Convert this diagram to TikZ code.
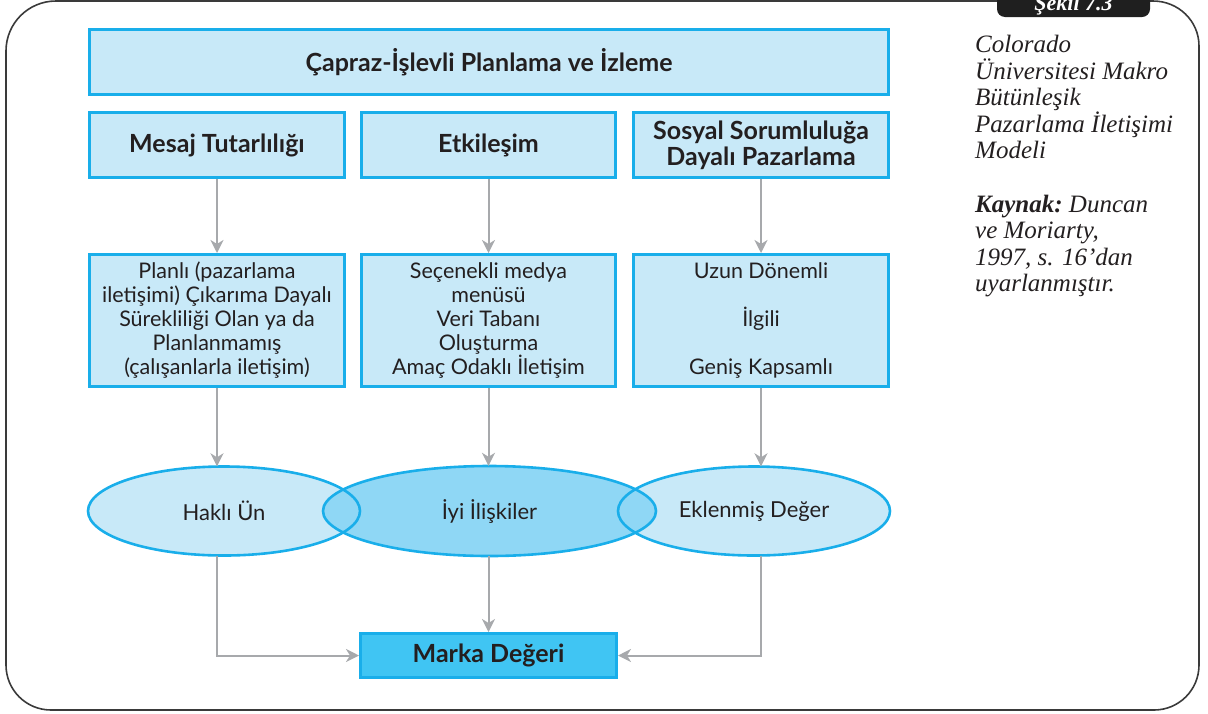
\documentclass[tikz,border=0pt]{standalone}
\usepackage{fontspec}
\usetikzlibrary{arrows.meta,shapes.geometric}
\newfontfamily\boxfont{Lato}
\newfontfamily\notefont{Liberation Serif}

\definecolor{inkdark}{HTML}{231F20}
\definecolor{paleblue}{HTML}{C8E9F8}
\definecolor{midblue}{HTML}{8FD7F5}
\definecolor{strongblue}{HTML}{40C5F3}
\definecolor{edgeblue}{HTML}{19AEEA}
\definecolor{connGray}{HTML}{A7A9AC}
\definecolor{frameGray}{HTML}{3A3A3A}

\tikzset{
  panel/.style={rectangle, draw=edgeblue, line width=3pt, fill=paleblue,
    text=inkdark, align=center, inner sep=0pt},
  headtext/.style={font=\boxfont\bfseries\fontsize{25}{26}\selectfont},
  bodytext/.style={font=\boxfont\fontsize{21.5}{24}\selectfont},
  oval/.style={ellipse, inner sep=0pt, text=inkdark,
    font=\boxfont\fontsize{22}{24}\selectfont},
  ovalline/.style={draw=edgeblue, line width=2.6pt},
  conn/.style={draw=connGray, line width=2pt,
    -{Stealth[length=13pt,width=13pt,inset=4pt]}},
}

\begin{document}
\begin{tikzpicture}[x=1pt,y=-1pt]
\useasboundingbox (0,0) rectangle (1208,713);

% outer frame with rounded corners
\draw[frameGray, line width=1.6pt]
  (1000,1) -- (56,1) to[out=180,in=90] (6,51) -- (6,665)
  to[out=-90,in=180] (51,710) -- (1154,710)
  to[out=0,in=-90] (1199,665) -- (1199,46)
  to[out=90,in=0] (1153,1) -- (1140,1);

% figure tab
\node[fill=black!88, rounded corners=8pt, minimum width=153pt,
  minimum height=40pt, inner sep=0pt] (tab) at (1073.5,-3) {};
\node[anchor=base, text=white, inner sep=0pt,
  font=\notefont\bfseries\itshape\fontsize{22}{26}\selectfont]
  (tabtext) at (1073.5,10.5) {Şekil 7.3};

% header rows
\node[panel, headtext, minimum width=799pt, minimum height=65pt]
  (title) at (489,62) {Çapraz-İşlevli Planlama ve İzleme};
\node[panel, headtext, minimum width=255pt, minimum height=65pt]
  (r2a) at (217,145) {Mesaj Tutarlılığı};
\node[panel, headtext, minimum width=254pt, minimum height=65pt]
  (r2b) at (488.5,145) {Etkileşim};
\node[panel, headtext, minimum width=255pt, minimum height=65pt]
  (r2c) at (761,145) {Sosyal Sorumluluğa\\Dayalı Pazarlama};

% detail boxes
\node[panel, bodytext, minimum width=255pt, minimum height=132pt]
  (r3a) at (217,320.5) {Planlı (pazarlama\\iletişimi) Çıkarıma Dayalı\\Sürekliliği Olan ya da\\Planlanmamış\\(çalışanlarla iletişim)};
\node[panel, bodytext, minimum width=254pt, minimum height=132pt]
  (r3b) at (488.5,320.5) {Seçenekli medya\\menüsü\\Veri Tabanı\\Oluşturma\\Amaç Odaklı İletişim};
\node[panel, bodytext, minimum width=255pt, minimum height=132pt]
  (r3c) at (761,320.5) {Uzun Dönemli\\[24pt]İlgili\\[24pt]Geniş Kapsamlı};

% overlapping outcome ellipses
\node[oval, fill=paleblue, minimum width=272pt, minimum height=89pt]
  (e1) at (224,511) {};
\node[oval, fill=paleblue, minimum width=272pt, minimum height=89pt]
  (e3) at (754,511) {};
\node[oval, fill=midblue, minimum width=333pt, minimum height=90pt]
  (e2) at (489.5,511) {};
\draw[ovalline] (e1.center) ellipse [x radius=136pt, y radius=44.5pt];
\draw[ovalline] (e3.center) ellipse [x radius=136pt, y radius=44.5pt];
\draw[ovalline] (e2.center) ellipse [x radius=166.5pt, y radius=45pt];
\node[oval] (l1) at (224,511) {Haklı Ün};
\node[oval] (l2) at (489.5,511) {İyi İlişkiler};
\node[oval] (l3) at (754,511) {Eklenmiş Değer};

% result box
\node[panel, headtext, fill=strongblue, minimum width=256pt, minimum height=44pt]
  (marka) at (488.5,655.5) {Marka Değeri};

% connectors
\draw[conn] (r2a) -- (r3a);
\draw[conn] (r2b) -- (r3b);
\draw[conn] (r2c) -- (r3c);
\draw[conn] (r3a.south) -- (r3a.south |- e1.north);
\draw[conn] (r3b.south) -- (r3b.south |- e2.north);
\draw[conn] (r3c.south) -- (r3c.south |- e3.north);
\draw[conn] (r3a.south |- e1.south) |- (marka.west);
\draw[conn] (r3b.south |- e2.south) -- (marka.north);
\draw[conn] (r3c.south |- e3.south) |- (marka.east);

% caption
\node[anchor=north west, inner sep=0pt, align=left, text=inkdark,
  font=\notefont\itshape\fontsize{25}{26.5}\selectfont]
  (caption) at (975,35) {Colorado\\Üniversitesi Makro\\Bütünleşik\\Pazarlama İletişimi\\Modeli\\[27pt]\textbf{Kaynak:}\ Duncan\\ve Moriarty,\\1997, s. 16’dan\\uyarlanmıştır.};
\end{tikzpicture}
\end{document}
